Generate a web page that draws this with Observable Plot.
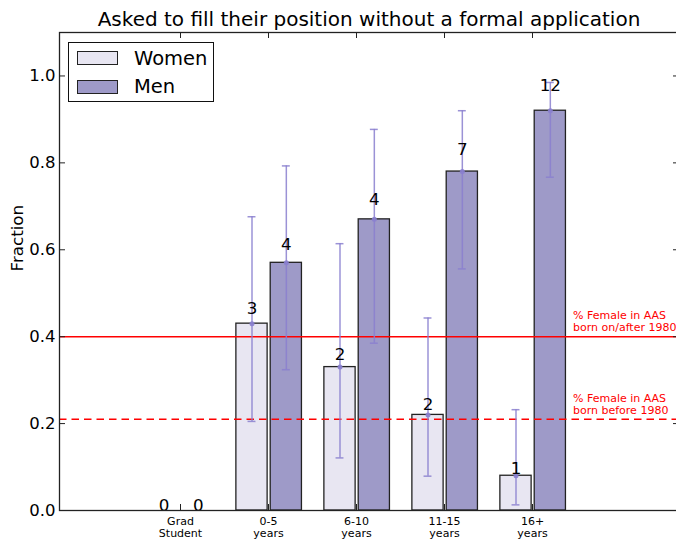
<!DOCTYPE html>
<html>
<head>
<meta charset="utf-8">
<script src="https://cdn.jsdelivr.net/npm/d3@7"></script>
<script src="https://cdn.jsdelivr.net/npm/@observablehq/plot@0.6"></script>
<style>
  html, body { margin: 0; padding: 0; background: #fff; overflow: hidden; }
  body { font-family: "DejaVu Sans", sans-serif; width: 676px; height: 540px; position: relative; }
  #title { position: absolute; left: 0; top: 9px; width: 738px; text-align: center; font-size: 20px; line-height: 20px; color: #000; white-space: nowrap; }
  #chart { position: absolute; left: 0; top: 30px; width: 680px; }
  #chart svg { max-width: none !important; }
  #legend { position: absolute; left: 68px; top: 42px; width: 146px; height: 60px; box-sizing: border-box; border: 1.3px solid #111; background: #fff; }
  .sw { position: absolute; left: 8px; width: 41px; height: 14px; box-sizing: border-box; border: 1.3px solid #222; }
  .lt { position: absolute; left: 65px; font-size: 19.5px; line-height: 20px; color: #000; white-space: nowrap; }
</style>
</head>
<body>
<div id="title">Asked to fill their position without a formal application</div>
<div id="chart"></div>
<div id="legend"></div>
<script>
// ---- data ----
const categories = ["Grad\nStudent", "0-5\nyears", "6-10\nyears", "11-15\nyears", "16+\nyears"];
const seriesNames = ["Women", "Men"];
const womenFrac = [0, 0.43, 0.33, 0.22, 0.08];
const menFrac   = [0, 0.57, 0.67, 0.78, 0.92];
const womenLow  = [null, 0.205, 0.121, 0.079, 0.013];
const womenHigh = [null, 0.676, 0.614, 0.443, 0.232];
const menLow    = [null, 0.324, 0.385, 0.556, 0.767];
const menHigh   = [null, 0.793, 0.877, 0.920, 0.985];
const womenN = [0, 3, 2, 2, 1];
const menN   = [0, 4, 4, 7, 12];
const aasAfter1980 = 0.40;
const aasBefore1980 = 0.21;
const aasAfterLabel = "% Female in AAS\nborn on/after 1980";
const aasBeforeLabel = "% Female in AAS\nborn before 1980";
const yTicks = [0, 0.2, 0.4, 0.6, 0.8, 1.0];

// ---- styles ----
const womenColor = "#e8e6f2";
const menColor = "#9e9ac8";
const errColor = "#8a7fcf";
const edge = "#222";

const idx = categories.map((_, i) => i);
const bars = [];
idx.forEach(i => {
  bars.push({i, s: "Women", x1: i - 0.365, x2: i - 0.01, v: womenFrac[i], lo: womenLow[i], hi: womenHigh[i], n: womenN[i]});
  bars.push({i, s: "Men", x1: i + 0.025, x2: i + 0.38, v: menFrac[i], lo: menLow[i], hi: menHigh[i], n: menN[i]});
});
bars.forEach(b => b.c = (b.x1 + b.x2) / 2);
const errs = bars.filter(b => b.lo != null);
const capW = 0.045;

const W = 680, H = 510;
const frameW = W - 59 - 1, frameH = H - 2 - 30;

const chart = Plot.plot({
  width: W, height: H,
  marginLeft: 59, marginRight: 1, marginTop: 2, marginBottom: 30,
  x: {domain: [-1.375, -1.375 + frameW / 88], axis: null},
  y: {domain: [0, 1.1], axis: null},
  style: {fontFamily: "DejaVu Sans, sans-serif", background: "white", color: "#000", overflow: "visible", maxWidth: "none"},
  marks: [
    Plot.rect(bars, {x1: "x1", x2: "x2", y1: 0, y2: "v", fill: d => d.s === "Women" ? womenColor : menColor, stroke: edge, strokeWidth: 1.3}),
    Plot.ruleY([aasAfter1980], {y: d => d, stroke: "red", strokeWidth: 1.5}),
    Plot.ruleY([aasBefore1980], {y: d => d, stroke: "red", strokeWidth: 1.5, strokeDasharray: "7.5,5"}),
    Plot.ruleX(errs, {x: "c", y1: "lo", y2: "hi", stroke: errColor, strokeWidth: 1.5, strokeOpacity: 0.85}),
    Plot.ruleY(errs, {y: "lo", x1: d => d.c - capW, x2: d => d.c + capW, stroke: errColor, strokeWidth: 1.5, strokeOpacity: 0.85}),
    Plot.ruleY(errs, {y: "hi", x1: d => d.c - capW, x2: d => d.c + capW, stroke: errColor, strokeWidth: 1.5, strokeOpacity: 0.85}),
    Plot.dot(errs, {x: "c", y: "v", r: 2.5, fill: errColor, fillOpacity: 0.9, stroke: null}),
    Plot.text(bars, {x: "c", y: d => d.v * 1.05, text: d => String(d.n), lineAnchor: "bottom", fontSize: 16.7, fill: "#000"}),
    Plot.text([aasAfterLabel], {x: 4.46, y: aasAfter1980 + 0.012, text: d => d, textAnchor: "start", lineAnchor: "bottom", fontSize: 11, lineHeight: 1.13, fill: "red"}),
    Plot.text([aasBeforeLabel], {x: 4.46, y: aasBefore1980 + 0.012, text: d => d, textAnchor: "start", lineAnchor: "bottom", fontSize: 11, lineHeight: 1.13, fill: "red"}),
    Plot.frame({stroke: "#222", strokeWidth: 1.3}),
    Plot.tickX(idx, {x: d => d, insetBottom: frameH - 6, stroke: "#222"}),
    Plot.tickX(idx, {x: d => d, insetTop: frameH - 6, stroke: "#222"}),
    Plot.tickY(yTicks, {y: d => d, insetRight: frameW - 6, stroke: "#222"}),
    Plot.tickY(yTicks, {y: d => d, insetLeft: frameW - 6, stroke: "#222"}),
    Plot.axisY(yTicks, {tickSize: 0, tickPadding: 4, tickFormat: d3.format(".1f"), fontSize: 16.5, label: null}),
    Plot.text(idx, {x: d => d, text: d => categories[d], frameAnchor: "bottom", lineAnchor: "top", dy: 6, fontSize: 11, lineHeight: 1.08, fill: "#000"}),
    Plot.text(["Fraction"], {text: d => d, frameAnchor: "left", dx: -42, rotate: -90, fontSize: 16.7, fill: "#000"})
  ]
});
chart.style.maxWidth = "none";
document.getElementById("chart").appendChild(chart);

// legend
const leg = document.getElementById("legend");
const legColors = [womenColor, menColor];
seriesNames.forEach((name, k) => {
  const sw = document.createElement("div");
  sw.className = "sw";
  sw.style.top = (8 + k * 28.6) + "px";
  sw.style.background = legColors[k];
  leg.appendChild(sw);
  const t = document.createElement("div");
  t.className = "lt";
  t.style.top = (5.5 + k * 28) + "px";
  t.textContent = name;
  leg.appendChild(t);
});
</script>
</body>
</html>
